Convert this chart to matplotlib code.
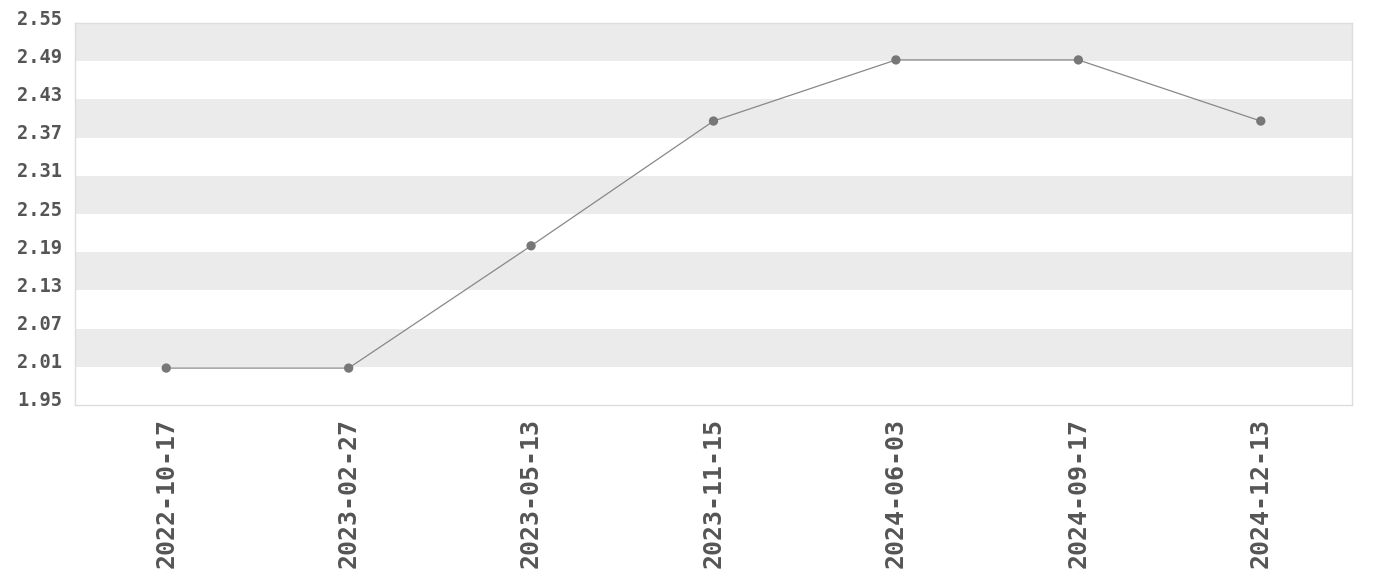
import numpy as np
import matplotlib
matplotlib.use("Agg")
import matplotlib.pyplot as plt
import matplotlib.transforms as mtransforms

dates = ["2022-10-17", "2023-02-27", "2023-05-13", "2023-11-15",
         "2024-06-03", "2024-09-17", "2024-12-13"]
values = [2.008, 2.008, 2.2, 2.396, 2.492, 2.492, 2.396]
y_ticks = [1.95, 2.01, 2.07, 2.13, 2.19, 2.25, 2.31, 2.37, 2.43, 2.49, 2.55]

font = "DejaVu Sans Mono"
text_color = "#555555"

fig = plt.figure(figsize=(13.8, 5.8), dpi=100)
ax = fig.add_axes([75 / 1380, 1 - 405 / 580, (1352 - 75) / 1380, (405 - 23) / 580])

# alternating bands
for i in range(len(y_ticks) - 1):
    if i % 2 == 1:
        ax.axhspan(y_ticks[i], y_ticks[i + 1], color="#ebebeb", lw=0, zorder=0)

x = np.arange(len(dates))
ax.plot(x, values, color="#888888", lw=0.9, zorder=2)
ax.scatter(x, values, s=45, color="#777777", zorder=3, edgecolors="none")

ax.set_xlim(-0.5, len(dates) - 0.5)
ax.set_ylim(y_ticks[0], y_ticks[-1])
ax.set_xticks(x)
ax.set_xticklabels(dates, rotation=90, fontsize=18, fontweight="bold",
                   family=font, color=text_color)
ax.set_yticks(y_ticks)
ax.set_yticklabels(["%.2f" % v for v in y_ticks], fontsize=13.5, fontweight="bold",
                   family=font, color=text_color)
ax.tick_params(axis="both", length=0)
ax.tick_params(axis="y", pad=9)
ax.tick_params(axis="x", pad=9)

# y labels sit a bit above their lines
offset = mtransforms.ScaledTranslation(0, 6 / 100, fig.dpi_scale_trans)
for lbl in ax.get_yticklabels():
    lbl.set_transform(lbl.get_transform() + offset)

for s in ax.spines.values():
    s.set_color("#dddddd")
    s.set_linewidth(1)

fig.savefig("out.png", dpi=100)
